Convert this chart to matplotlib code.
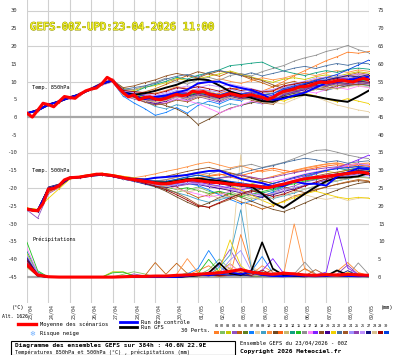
import numpy as np
import matplotlib
matplotlib.use("Agg")
import matplotlib.pyplot as plt
import matplotlib.patheffects as pe
from matplotlib.patches import Rectangle

# 1) Echeances (jours depuis le run)
days6 = np.arange(0, 385, 6) / 24.0
days12 = np.arange(0, 385, 12) / 24.0
date_labels = ["23/04", "24/04", "25/04", "26/04", "27/04", "28/04", "29/04", "30/04",
               "01/05", "02/05", "03/05", "04/05", "05/05", "06/05", "07/05", "08/05", "09/05"]

# 2) Temperature 850hPa
t850_mean = [1.2, 0.1, 2.0, 4.0, 3.6, 3.0, 4.5, 5.9, 5.6, 5.4, 6.6, 7.5, 8.0, 8.3, 9.5, 11.3,
             10.4, 8.6, 7.0, 5.8, 6.4, 5.0, 5.6, 5.8, 5.2, 5.0, 5.4, 6.0, 6.5, 6.1, 6.4, 7.4,
             7.1, 7.3, 6.6, 6.3, 5.9, 6.3, 6.7, 6.4, 6.0, 6.2, 6.4, 6.0, 5.7, 5.1, 5.6, 6.6,
             7.3, 7.6, 8.0, 8.6, 8.7, 9.0, 9.6, 10.0, 9.8, 10.0, 10.3, 10.5, 10.2, 10.0, 10.6, 11.0, 10.5]
t850_ctrl = [1.2, 2.0, 3.6, 4.5, 5.6, 6.6, 8.0, 9.5, 10.4, 7.0, 6.0, 5.2, 5.8, 6.2, 7.0, 7.8, 9.6,
             10.0, 10.1, 9.0, 8.3, 7.7, 6.5, 5.0, 5.3, 6.2, 7.0, 8.4, 9.7, 10.0, 10.6, 11.0, 11.5]
t850_gfs = [1.2, 2.0, 3.6, 4.5, 5.6, 6.6, 8.0, 9.5, 10.4, 7.0, 6.4, 6.8, 7.5, 8.4, 9.2, 10.4, 10.8,
            10.5, 9.0, 7.3, 6.4, 5.5, 4.6, 4.4, 5.6, 6.0, 6.4, 5.9, 5.3, 4.8, 4.4, 5.9, 7.6]
t850_perts = [
    [0.9, 2.4, 3.8, 4.1, 5.8, 6.2, 8.3, 9.8, 10.9, 7.6, 6.9, 6.1, 5.4, 6.2, 7.3, 6.9, 8.0, 7.4, 6.2, 7.1, 5.8, 6.9, 7.4, 8.6, 10.1, 11.8, 13.2, 14.6, 16.0, 17.1, 18.4, 18.1, 18.6],
    [1.3, 1.8, 3.5, 4.7, 5.4, 6.8, 7.7, 9.3, 10.2, 6.6, 5.8, 4.9, 4.6, 5.1, 6.0, 5.5, 6.4, 5.9, 5.0, 6.0, 5.4, 5.9, 5.1, 5.3, 6.9, 7.5, 8.0, 8.9, 9.1, 9.6, 9.4, 10.1, 9.7],
    [1.1, 2.1, 3.8, 4.4, 5.7, 6.5, 8.1, 9.6, 10.6, 8.2, 7.6, 8.5, 9.0, 9.8, 11.0, 10.4, 10.9, 11.6, 12.3, 13.1, 12.2, 11.4, 10.6, 9.9, 10.8, 11.2, 10.7, 11.5, 12.0, 11.6, 12.3, 12.9, 12.5],
    [1.4, 1.9, 3.3, 4.8, 5.2, 7.0, 7.7, 9.1, 10.0, 6.1, 5.2, 4.4, 3.6, 4.1, 5.2, 4.8, 5.9, 5.1, 4.3, 5.5, 4.9, 5.6, 4.8, 4.2, 6.1, 6.9, 7.8, 8.4, 8.1, 9.2, 8.8, 9.5, 9.9],
    [1.0, 2.2, 3.7, 4.3, 5.9, 6.4, 8.2, 9.4, 10.7, 7.4, 6.6, 7.2, 8.1, 9.3, 10.6, 11.8, 11.1, 12.4, 11.6, 12.8, 11.9, 10.7, 9.8, 8.6, 9.4, 10.2, 9.1, 10.5, 11.4, 10.8, 11.9, 12.6, 12.1],
    [1.2, 2.0, 3.4, 4.6, 5.5, 6.7, 7.9, 9.5, 10.3, 6.9, 6.3, 5.3, 5.8, 5.0, 6.8, 6.1, 7.3, 6.8, 6.2, 7.0, 6.6, 7.3, 6.4, 6.9, 7.7, 8.6, 9.1, 10.3, 10.7, 11.4, 10.8, 11.6, 11.2],
    [1.3, 1.9, 3.6, 4.5, 5.6, 6.6, 8.0, 9.4, 10.1, 6.0, 4.1, 2.5, 0.6, 1.4, 2.8, 1.2, 3.4, 4.6, 3.8, 5.1, 4.7, 5.8, 5.2, 6.4, 7.0, 7.9, 8.3, 9.2, 9.6, 10.1, 10.6, 10.3, 10.9],
    [1.1, 2.2, 3.9, 4.3, 5.8, 6.3, 8.3, 9.9, 10.5, 7.2, 6.8, 6.2, 5.6, 6.4, 7.0, 7.6, 7.8, 7.2, 6.6, 7.4, 6.9, 6.1, 5.4, 4.3, 3.8, 5.1, 6.2, 5.8, 4.6, 3.5, 2.8, 2.1, 1.6],
    [1.2, 2.1, 3.5, 4.6, 5.6, 6.7, 7.8, 9.6, 10.4, 6.8, 5.9, 4.6, 3.1, 2.4, 3.6, 3.0, 4.2, 3.6, 2.8, 3.9, 3.3, 4.4, 3.8, 5.0, 6.1, 6.8, 7.2, 8.0, 7.6, 8.4, 8.9, 9.3, 9.0],
    [1.0, 2.3, 3.7, 4.4, 5.7, 6.5, 8.1, 9.7, 10.8, 7.7, 7.2, 6.4, 6.9, 7.6, 8.7, 8.2, 9.3, 10.1, 10.9, 10.2, 9.6, 10.4, 11.2, 10.6, 11.1, 11.9, 12.4, 11.8, 12.6, 13.2, 12.7, 13.4, 13.0],
    [1.2, 2.0, 3.6, 4.5, 5.5, 6.6, 8.0, 9.4, 10.2, 7.1, 6.2, 5.0, 4.2, 3.3, 2.4, 0.8, -2.0, -0.5, 1.2, 2.6, 3.4, 4.1, 4.7, 5.3, 6.0, 6.8, 7.1, 7.9, 8.6, 8.2, 9.0, 9.4, 9.1],
    [1.1, 2.1, 3.8, 4.3, 5.8, 6.4, 8.2, 9.5, 10.6, 7.3, 6.7, 5.9, 5.3, 5.9, 6.6, 7.1, 6.4, 5.8, 6.9, 7.8, 8.4, 7.6, 6.8, 7.4, 8.5, 9.3, 9.9, 10.7, 11.3, 10.9, 11.6, 12.1, 11.8],
    [1.3, 1.9, 3.5, 4.6, 5.5, 6.8, 7.8, 9.3, 10.2, 6.7, 6.0, 5.2, 4.9, 5.6, 6.3, 5.9, 6.7, 7.3, 6.4, 5.8, 6.5, 7.1, 6.3, 5.7, 6.6, 7.2, 8.0, 8.7, 9.2, 8.9, 9.7, 10.0, 9.6],
    [1.2, 2.1, 3.6, 4.5, 5.7, 6.6, 7.9, 9.6, 10.5, 7.5, 7.1, 8.4, 9.3, 10.2, 11.3, 10.8, 11.9, 12.6, 13.4, 14.6, 14.9, 15.3, 15.6, 14.2, 13.1, 12.4, 11.8, 12.6, 13.2, 12.7, 13.5, 13.9, 13.6],
    [1.1, 2.0, 3.7, 4.4, 5.6, 6.5, 8.1, 9.5, 10.4, 7.0, 6.5, 5.7, 5.1, 5.5, 6.4, 6.3, 7.0, 6.5, 5.8, 6.6, 5.9, 6.3, 5.6, 5.5, 7.2, 7.9, 8.6, 9.5, 9.7, 10.2, 10.1, 10.5, 10.4],
    [1.2, 2.0, 3.6, 4.5, 5.6, 6.6, 8.0, 9.5, 10.4, 7.8, 7.9, 8.8, 9.9, 11.1, 10.2, 9.4, 10.6, 11.3, 10.5, 11.8, 12.4, 11.7, 12.9, 13.8, 14.6, 15.9, 16.8, 17.5, 18.6, 19.3, 20.3, 19.1, 18.2],
    [1.3, 1.8, 3.4, 4.7, 5.3, 6.9, 7.7, 9.2, 10.1, 6.4, 5.6, 4.8, 4.0, 4.4, 5.3, 4.7, 3.9, 2.6, 1.3, 2.4, 3.5, 4.6, 3.9, 4.8, 5.6, 6.3, 7.4, 6.9, 7.8, 8.5, 7.9, 8.8, 8.4],
    [1.0, 2.2, 3.8, 4.4, 5.9, 6.4, 8.2, 9.8, 10.7, 7.3, 6.8, 6.1, 5.7, 6.3, 7.2, 6.9, 7.5, 7.0, 6.3, 7.3, 6.7, 7.2, 6.6, 6.1, 7.9, 8.7, 9.4, 10.4, 10.5, 11.1, 10.9, 11.3, 11.0],
    [1.2, 2.1, 3.7, 4.5, 5.6, 6.6, 8.0, 9.6, 10.5, 8.4, 8.9, 9.8, 10.6, 11.7, 12.4, 11.8, 12.9, 12.2, 13.1, 12.6, 11.9, 11.2, 10.4, 9.2, 8.1, 7.4, 8.2, 9.1, 8.7, 9.6, 10.3, 9.9, 10.4],
    [1.1, 2.0, 3.5, 4.6, 5.5, 6.7, 7.9, 9.4, 10.3, 6.6, 5.7, 4.6, 3.9, 4.6, 5.8, 5.1, 6.3, 5.6, 4.7, 5.9, 5.2, 5.9, 5.0, 4.6, 6.4, 7.2, 7.8, 8.9, 9.1, 9.8, 9.6, 10.2, 9.9],
    [1.2, 2.0, 3.6, 4.5, 5.7, 6.6, 8.0, 9.5, 10.4, 7.1, 6.4, 5.8, 5.4, 5.3, 6.7, 6.6, 7.3, 6.8, 6.1, 6.9, 6.2, 6.6, 5.9, 5.3, 4.6, 5.7, 6.8, 6.1, 5.2, 4.4, 5.3, 4.6, 3.9],
    [1.1, 2.2, 3.7, 4.4, 5.8, 6.5, 8.2, 9.6, 10.6, 7.9, 8.4, 8.9, 9.6, 10.8, 11.6, 12.1, 11.4, 12.7, 13.3, 12.5, 11.8, 12.6, 11.7, 12.4, 13.1, 13.9, 14.4, 13.8, 14.6, 15.2, 14.7, 15.4, 15.1],
    [1.3, 1.9, 3.5, 4.6, 5.5, 6.8, 7.8, 9.3, 10.2, 6.5, 5.6, 4.3, 3.5, 3.9, 4.9, 4.4, 5.6, 6.1, 5.4, 6.3, 5.6, 4.9, 4.1, 3.7, 5.6, 6.4, 7.3, 8.1, 7.7, 8.9, 9.4, 9.1, 9.8],
    [1.0, 2.3, 3.8, 4.3, 5.9, 6.3, 8.3, 9.7, 10.8, 7.6, 6.9, 6.4, 5.9, 6.6, 7.6, 7.3, 8.1, 7.6, 7.1, 8.0, 7.2, 7.8, 7.1, 6.8, 8.4, 9.2, 9.6, 10.6, 10.8, 11.5, 11.2, 11.8, 11.4],
    [1.2, 2.0, 3.6, 4.5, 5.6, 6.6, 8.0, 9.5, 10.4, 6.8, 6.0, 5.1, 4.7, 4.9, 5.9, 5.6, 6.6, 6.0, 5.3, 6.2, 5.5, 5.7, 4.9, 4.8, 6.6, 7.3, 8.1, 8.8, 9.0, 9.5, 9.3, 9.8, 9.5],
    [1.1, 2.1, 3.7, 4.4, 5.7, 6.5, 8.1, 9.6, 10.5, 7.4, 7.0, 6.6, 6.2, 7.0, 8.2, 8.9, 8.3, 9.2, 8.6, 9.4, 8.8, 8.1, 7.4, 7.9, 8.8, 9.6, 10.2, 11.1, 11.4, 12.0, 11.7, 12.3, 12.0],
    [1.2, 2.0, 3.6, 4.5, 5.6, 6.6, 8.0, 9.5, 10.4, 6.9, 6.1, 5.4, 5.0, 5.8, 6.9, 6.0, 6.8, 6.3, 5.5, 6.4, 5.7, 6.0, 5.3, 5.8, 7.6, 8.4, 9.3, 10.1, 10.5, 11.2, 11.8, 11.4, 12.1],
    [1.3, 1.9, 3.4, 4.7, 5.4, 6.8, 7.8, 9.3, 10.1, 6.3, 5.4, 4.7, 4.3, 4.8, 5.7, 5.3, 6.1, 5.4, 4.9, 5.7, 5.0, 5.2, 4.4, 4.0, 5.8, 6.5, 7.0, 7.9, 8.4, 8.0, 8.7, 9.0, 8.6],
    [1.1, 2.2, 3.7, 4.4, 5.8, 6.5, 8.2, 9.6, 10.6, 7.6, 7.3, 7.0, 6.6, 7.4, 8.4, 8.0, 8.7, 8.1, 7.4, 8.3, 7.6, 8.0, 7.2, 7.5, 8.9, 9.4, 10.0, 9.4, 10.2, 10.9, 10.3, 11.0, 10.7],
    [1.2, 2.1, 3.6, 4.5, 5.6, 6.6, 7.9, 9.5, 10.3, 7.2, 6.7, 5.9, 5.5, 6.0, 6.9, 6.7, 7.4, 6.9, 6.4, 7.2, 6.6, 6.9, 6.2, 6.7, 8.1, 8.9, 9.6, 10.5, 11.2, 12.1, 13.4, 14.8, 16.2],
]

# 3) Temperature 500hPa
t500_mean = [-25.8, -26.2, -26.3, -24.2, -20.2, -20.0, -19.2, -17.6, -17.0, -16.9, -16.8, -16.5, -16.3,
             -16.0, -16.0, -16.2, -16.4, -16.7, -17.0, -17.3, -17.5, -17.7, -18.0, -18.2, -18.5, -18.7,
             -18.7, -18.5, -18.2, -18.0, -17.7, -17.6, -17.8, -18.0, -18.2, -18.3, -18.4, -18.6, -18.8,
             -18.9, -19.0, -19.1, -19.2, -19.4, -19.6, -19.8, -19.5, -19.1, -18.8, -18.4, -18.0, -17.6,
             -17.3, -17.1, -16.9, -16.8, -16.6, -16.4, -16.2, -16.0, -15.8, -15.6, -15.4, -15.5, -15.8]
t500_ctrl = [-25.9, -26.2, -20.3, -19.1, -17.0, -16.8, -16.3, -16.0, -16.5, -17.1, -17.3, -17.5, -17.0,
             -16.8, -16.5, -16.2, -15.6, -15.1, -15.0, -16.2, -17.3, -18.0, -18.5, -19.5, -19.3, -18.0,
             -18.7, -18.7, -19.2, -16.7, -15.5, -14.3, -14.6]
t500_gfs = [-25.8, -26.3, -20.1, -19.2, -17.0, -16.8, -16.3, -16.0, -16.4, -17.0, -17.5, -18.0, -18.3,
            -18.4, -17.9, -17.4, -17.2, -17.6, -17.9, -18.4, -18.9, -19.5, -21.5, -24.0, -25.5, -23.5,
            -21.5, -19.6, -18.0, -17.0, -16.9, -16.6, -15.6]
t500_perts = [
    [-25.6, -26.0, -21.0, -19.6, -17.2, -16.6, -16.1, -15.8, -16.3, -16.8, -17.2, -17.9, -18.1, -17.6, -16.9, -16.2, -15.8, -16.4, -15.9, -16.8, -17.5, -16.9, -17.4, -16.6, -15.8, -14.9, -14.2, -13.6, -13.1, -12.8, -13.4, -12.9, -13.2],
    [-26.0, -26.4, -19.8, -18.9, -16.8, -16.9, -16.4, -16.2, -16.6, -17.3, -17.9, -18.6, -19.4, -20.2, -21.1, -20.4, -19.6, -20.8, -21.6, -20.9, -22.1, -23.0, -22.4, -21.6, -20.7, -19.8, -19.1, -18.4, -17.6, -17.9, -17.2, -16.8, -17.1],
    [-25.7, -26.2, -20.6, -19.4, -17.1, -16.7, -16.2, -15.9, -16.2, -16.9, -17.4, -17.6, -17.9, -18.4, -18.0, -17.2, -17.5, -18.9, -19.5, -20.6, -19.8, -18.7, -17.9, -18.6, -17.8, -16.9, -16.3, -15.9, -15.2, -15.6, -14.8, -14.5, -14.9],
    [-26.1, -28.4, -21.5, -19.8, -17.3, -16.9, -16.5, -16.1, -16.5, -17.2, -17.6, -18.3, -18.8, -19.1, -18.7, -18.1, -18.6, -19.3, -20.1, -19.4, -20.6, -21.3, -22.0, -21.2, -20.1, -19.3, -18.2, -17.6, -16.9, -16.4, -15.8, -15.2, -15.5],
    [-25.6, -26.1, -20.1, -19.0, -16.9, -16.6, -16.2, -15.9, -16.3, -17.0, -17.4, -17.8, -18.2, -18.9, -19.6, -21.2, -22.6, -21.8, -20.9, -22.4, -23.8, -24.6, -25.8, -24.9, -23.6, -22.1, -21.4, -20.3, -19.6, -18.8, -18.1, -17.5, -17.9],
    [-25.9, -26.3, -20.4, -19.3, -17.0, -16.8, -16.3, -16.0, -16.4, -17.1, -17.6, -18.1, -18.6, -18.9, -18.4, -17.8, -17.9, -18.3, -18.6, -19.0, -19.3, -19.5, -19.9, -19.6, -18.9, -18.2, -17.5, -17.1, -16.8, -16.4, -16.0, -15.6, -16.0],
    [-25.8, -26.3, -20.2, -19.2, -17.0, -16.8, -16.3, -16.0, -16.4, -17.0, -17.6, -18.3, -18.9, -19.4, -19.0, -18.6, -19.2, -20.4, -21.8, -23.1, -24.3, -23.6, -22.4, -21.0, -19.6, -18.3, -17.1, -15.9, -14.8, -14.1, -13.6, -13.2, -13.5],
    [-25.7, -26.2, -20.0, -19.1, -16.9, -16.7, -16.2, -16.0, -16.3, -16.9, -17.3, -17.7, -18.1, -18.3, -17.9, -17.4, -17.6, -17.9, -18.1, -18.6, -18.9, -19.0, -19.4, -20.3, -21.5, -22.4, -21.8, -22.6, -23.1, -22.5, -23.4, -22.8, -22.6],
    [-26.0, -26.5, -19.9, -19.0, -17.2, -17.0, -16.6, -16.3, -16.7, -17.4, -18.0, -18.8, -19.6, -20.4, -21.2, -22.0, -23.1, -23.9, -23.2, -22.4, -21.5, -20.6, -21.8, -22.9, -22.1, -21.3, -20.2, -19.4, -18.6, -17.9, -17.3, -16.6, -16.9],
    [-25.5, -26.0, -21.2, -19.7, -17.3, -16.5, -16.0, -15.7, -16.1, -16.6, -17.0, -16.5, -15.9, -15.2, -14.6, -13.9, -13.1, -12.6, -13.4, -14.2, -13.6, -14.5, -15.3, -14.8, -15.6, -15.1, -14.4, -13.8, -13.2, -12.9, -13.5, -13.1, -12.8],
    [-25.9, -26.4, -20.3, -19.4, -17.1, -16.9, -16.4, -16.1, -16.5, -17.2, -17.8, -18.6, -19.5, -20.8, -22.4, -23.9, -25.2, -24.1, -22.6, -21.4, -22.5, -23.6, -24.8, -25.9, -26.6, -25.4, -24.1, -22.8, -21.6, -20.5, -19.4, -18.6, -18.2],
    [-25.6, -26.1, -20.8, -19.5, -17.1, -16.6, -16.1, -15.8, -16.2, -16.8, -17.3, -17.8, -18.3, -18.6, -18.1, -17.5, -17.1, -16.6, -16.2, -15.8, -16.4, -15.6, -14.9, -14.3, -14.9, -15.4, -14.8, -14.2, -13.7, -13.3, -13.9, -13.4, -13.8],
    [-25.8, -26.2, -20.1, -19.2, -17.0, -16.8, -16.3, -16.0, -16.4, -17.0, -17.5, -18.0, -18.5, -18.7, -18.2, -17.7, -17.8, -18.2, -18.4, -18.8, -19.0, -19.2, -19.6, -19.5, -18.8, -18.0, -17.3, -16.9, -16.6, -16.2, -15.8, -15.4, -15.8],
    [-25.7, -26.3, -20.5, -19.3, -17.1, -16.7, -16.2, -15.9, -16.3, -16.9, -17.3, -17.6, -17.8, -18.1, -17.5, -16.9, -16.2, -16.8, -17.4, -18.2, -19.1, -20.2, -21.3, -20.6, -19.4, -18.1, -16.8, -15.7, -14.9, -14.3, -14.8, -14.1, -14.5],
    [-26.0, -26.4, -19.7, -18.8, -16.9, -16.9, -16.5, -16.2, -16.6, -17.3, -17.8, -18.4, -19.0, -19.6, -20.3, -19.8, -20.6, -21.4, -20.8, -21.6, -22.3, -21.7, -20.9, -20.2, -19.3, -18.7, -17.9, -17.4, -16.8, -16.1, -15.5, -15.0, -15.3],
    [-25.8, -26.2, -20.3, -19.2, -17.0, -16.7, -16.2, -15.9, -16.3, -16.9, -17.3, -17.7, -17.9, -17.5, -16.8, -16.0, -15.4, -15.9, -15.1, -14.6, -13.8, -13.2, -14.1, -13.4, -12.7, -11.6, -10.4, -9.3, -9.1, -9.8, -10.6, -11.2, -11.6],
    [-25.7, -26.1, -20.0, -19.1, -16.9, -16.7, -16.2, -16.0, -16.4, -17.1, -17.6, -18.2, -18.7, -19.3, -20.1, -20.9, -21.6, -22.4, -21.9, -20.8, -19.9, -19.2, -18.6, -18.0, -17.4, -16.7, -15.9, -15.3, -14.7, -14.2, -13.6, -13.0, -13.4],
    [-25.9, -26.3, -20.2, -19.3, -17.0, -16.8, -16.3, -16.0, -16.4, -17.0, -17.5, -18.1, -18.6, -18.9, -18.5, -18.0, -18.3, -18.8, -19.3, -19.9, -20.4, -19.8, -19.2, -18.7, -17.9, -17.2, -16.5, -15.8, -15.0, -14.2, -13.1, -11.9, -10.6],
    [-25.6, -26.0, -20.9, -19.5, -17.2, -16.6, -16.1, -15.8, -16.2, -16.7, -17.1, -17.3, -17.1, -16.6, -15.9, -15.2, -14.6, -14.1, -14.8, -15.6, -16.3, -17.1, -17.9, -18.6, -19.5, -20.4, -21.2, -20.5, -19.6, -18.9, -18.3, -17.8, -18.1],
    [-26.1, -26.6, -19.6, -18.8, -17.1, -17.0, -16.6, -16.3, -16.7, -17.4, -18.0, -18.7, -19.3, -19.8, -19.2, -18.6, -18.9, -19.5, -20.0, -20.6, -21.2, -21.9, -22.5, -21.8, -20.9, -20.1, -19.2, -18.5, -17.7, -17.0, -16.4, -15.9, -16.2],
    [-25.5, -25.9, -22.8, -20.1, -17.4, -16.5, -16.0, -15.7, -16.1, -16.6, -17.0, -17.5, -17.9, -18.2, -17.8, -17.3, -17.0, -17.6, -18.3, -19.2, -20.4, -21.9, -23.4, -24.6, -23.8, -22.6, -21.5, -20.8, -21.6, -22.4, -22.9, -22.5, -22.8],
    [-25.8, -26.2, -20.2, -19.2, -17.0, -16.8, -16.3, -16.0, -16.4, -17.0, -17.5, -17.9, -18.3, -18.4, -17.9, -17.3, -17.2, -17.4, -17.0, -16.5, -15.7, -14.9, -14.2, -13.6, -12.8, -12.1, -11.5, -11.9, -12.6, -12.2, -12.9, -12.5, -12.2],
    [-25.9, -26.4, -20.4, -19.4, -17.1, -16.9, -16.4, -16.1, -16.5, -17.2, -17.7, -18.4, -19.1, -20.0, -21.3, -22.8, -24.6, -25.4, -24.2, -23.1, -22.0, -20.9, -20.1, -19.3, -18.6, -17.9, -17.2, -16.5, -15.9, -15.4, -14.9, -14.5, -14.8],
    [-25.7, -26.1, -20.1, -19.1, -16.9, -16.7, -16.2, -15.9, -16.3, -16.9, -17.4, -17.9, -18.3, -18.5, -18.0, -17.5, -17.6, -18.0, -18.3, -18.7, -18.8, -19.0, -19.3, -19.1, -18.5, -17.7, -17.0, -16.7, -16.3, -15.9, -15.6, -15.2, -15.5],
    [-25.8, -26.3, -20.3, -19.2, -17.0, -16.8, -16.3, -16.0, -16.4, -17.0, -17.5, -18.0, -18.4, -18.8, -19.4, -18.9, -18.3, -17.7, -17.1, -16.8, -16.2, -16.8, -17.4, -16.9, -16.2, -15.6, -15.0, -14.6, -14.2, -13.9, -14.3, -13.8, -14.1],
    [-26.0, -26.5, -19.9, -19.0, -17.1, -16.9, -16.5, -16.2, -16.6, -17.3, -17.9, -18.5, -19.1, -19.4, -19.0, -18.5, -18.7, -19.2, -19.6, -20.3, -20.9, -21.5, -22.0, -21.4, -20.6, -19.8, -19.0, -18.3, -17.6, -17.0, -16.5, -16.1, -16.4],
    [-25.8, -26.3, -20.2, -19.2, -17.0, -16.8, -16.3, -16.0, -16.4, -17.0, -17.5, -18.1, -18.6, -18.8, -18.3, -17.8, -17.9, -18.4, -18.7, -19.2, -19.4, -19.7, -20.1, -19.8, -19.0, -18.2, -17.4, -16.9, -16.4, -15.9, -15.4, -14.9, -15.2],
    [-25.7, -26.2, -20.6, -19.4, -17.1, -16.7, -16.2, -15.9, -16.3, -16.9, -17.4, -18.0, -18.6, -19.3, -20.2, -21.0, -20.4, -21.7, -22.8, -22.1, -21.3, -22.6, -23.3, -22.7, -21.9, -21.0, -20.2, -19.3, -18.5, -17.8, -17.2, -16.7, -17.0],
    [-25.9, -26.4, -20.3, -19.3, -17.1, -16.9, -16.4, -16.1, -16.5, -17.2, -17.8, -18.5, -19.3, -20.4, -21.8, -23.3, -24.9, -25.3, -24.0, -22.7, -21.5, -20.6, -21.4, -22.3, -21.6, -20.5, -19.3, -18.2, -17.3, -16.6, -16.0, -15.5, -15.8],
    [-25.7, -26.1, -20.1, -19.1, -16.9, -16.7, -16.2, -15.9, -16.3, -16.9, -17.3, -17.6, -17.9, -18.0, -17.4, -16.7, -16.3, -16.9, -17.5, -18.0, -18.4, -18.9, -19.3, -18.6, -17.8, -16.9, -16.1, -15.5, -14.9, -14.5, -14.1, -13.8, -14.2],
]

# 4) Precipitations (mm)
rr_mean = [3.5, 0.6, 0.1, 0, 0, 0, 0, 0, 0, 0.1, 0.2, 0.2, 0.3, 0.3, 0.5, 0.6, 0.8, 1.0, 1.2, 1.6, 2.1,
           1.4, 1.0, 0.8, 1.1, 0.9, 0.6, 0.5, 0.7, 0.6, 0.8, 0.6, 0.5]
rr_ctrl = [3.6, 0.5, 0, 0, 0, 0, 0, 0, 0, 0, 0, 0, 0, 0, 0, 0.3, 0.7, 0.5, 0.9, 1.4, 0.8, 1.6, 0.6,
           0.3, 0.2, 0.4, 0.3, 0.2, 0.3, 0.5, 0.3, 0.2, 0.3]
rr_gfs = [3.4, 0.4, 0, 0, 0, 0, 0, 0, 0, 0, 0, 0, 0, 0, 0, 0.2, 0.5, 1.2, 4.0, 1.0, 0.6, 1.8, 9.8,
          2.4, 0.5, 0.3, 0.2, 0.4, 0.3, 1.9, 0.6, 0.3, 0.2]
rr_perts = [
    [4.2, 0.8, 0, 0, 0, 0, 0, 0, 0, 0, 0, 0, 0, 0, 0, 0.6, 1.8, 3.2, 1.1, 0.4, 12.0, 2.5, 0.6, 0.3, 0.8, 1.2, 0.4, 0.2, 0.5, 1.6, 4.1, 1.3, 0.4],
    [3.1, 0.5, 0, 0, 0, 0, 0, 0, 0, 0.8, 1.5, 0.9, 0, 0, 0.3, 1.2, 0.5, 2.1, 5.1, 2.2, 0.6, 0.4, 1.0, 0.7, 0.3, 0.2, 0.6, 0.3, 0.1, 0.4, 0.8, 0.3, 0.2],
    [6.5, 1.2, 0, 0, 0, 0, 0, 0, 1.5, 1.5, 0.4, 0, 0, 0, 0, 0.2, 0.9, 0.4, 1.6, 3.8, 1.2, 0.3, 0.2, 0.6, 1.4, 0.5, 0.2, 0.1, 0.3, 0.2, 0.5, 0.9, 0.3],
    [3.8, 0.6, 0, 0, 0, 0, 0, 0, 0, 0, 0.9, 0.3, 0, 0, 0, 0.4, 0.2, 1.1, 3.4, 7.8, 2.6, 0.5, 0.3, 0.9, 0.4, 0.2, 0.1, 0.3, 0.2, 0.6, 0.3, 0.4, 0.2],
    [5.2, 0.9, 0, 0, 0, 0, 0, 0, 0, 0, 0, 0.3, 4.1, 0.8, 3.9, 1.0, 0.3, 0.6, 0.2, 0.5, 1.3, 0.6, 0.4, 0.2, 0.3, 0.5, 2.4, 0.8, 0.3, 0.2, 0.4, 0.6, 0.3],
    [2.9, 0.4, 0, 0, 0, 0, 0, 0, 0, 0, 0, 0, 0, 0, 0.2, 0.5, 0.3, 0.8, 1.2, 0.7, 0.4, 0.6, 1.5, 0.5, 0.3, 0.2, 0.4, 0.8, 0.3, 0.2, 0.1, 0.3, 0.2],
    [4.5, 0.7, 0, 0, 0, 0, 0, 0, 0, 0, 0, 0, 0, 0, 0.3, 0.9, 2.4, 7.5, 3.0, 0.8, 0.5, 1.7, 5.8, 1.2, 0.6, 0.3, 0.2, 0.5, 0.3, 0.2, 0.4, 0.2, 0.1],
    [3.3, 0.5, 0, 0, 0, 0, 0, 0, 0, 0, 0, 0, 0, 0, 0, 0.3, 0.6, 1.4, 0.8, 2.2, 34.5, 3.1, 0.9, 0.4, 0.2, 0.6, 0.3, 0.2, 0.5, 0.3, 0.2, 0.4, 0.3],
    [5.8, 1.0, 0, 0, 0, 0, 0, 0, 0, 0, 0, 0, 0, 0, 0, 0.4, 1.1, 0.6, 2.8, 6.2, 19.0, 2.4, 0.7, 0.3, 0.5, 0.2, 0.4, 0.3, 0.2, 0.5, 0.3, 0.2, 0.4],
    [3.6, 0.6, 0, 0, 0, 0, 0, 0, 0, 0, 0, 0, 0, 0, 0.8, 5.2, 1.3, 0.5, 0.9, 2.6, 1.1, 0.7, 3.2, 1.4, 0.6, 15.0, 2.2, 0.8, 0.4, 0.3, 0.6, 0.5, 0.3],
    [4.8, 0.8, 0, 0, 0, 0, 0, 0, 0, 0, 0, 0, 0, 0, 0, 0.2, 0.5, 1.3, 0.6, 0.9, 2.4, 1.6, 0.7, 2.1, 0.9, 0.5, 0.3, 0.6, 0.4, 0.2, 0.3, 0.5, 0.2],
    [3.2, 0.5, 0, 0, 0, 0, 0, 0, 0, 0, 0, 0, 0, 0, 0.2, 0.5, 0.3, 0.9, 1.6, 0.8, 1.2, 0.6, 0.4, 0.8, 1.5, 0.6, 0.3, 0.2, 0.4, 0.7, 0.3, 1.1, 0.4],
    [2.6, 0.4, 0, 0, 0, 0, 0, 0, 0, 0, 0, 0, 0, 0, 0, 0.2, 0.4, 0.6, 0.9, 1.8, 0.6, 0.4, 0.3, 0.5, 0.2, 0.6, 0.4, 0.3, 1.2, 0.5, 0.2, 0.3, 0.2],
    [7.2, 1.4, 0, 0, 0, 0, 0, 0, 0, 0, 0, 0, 0, 0, 0, 0.3, 0.6, 0.4, 1.1, 0.5, 0.9, 0.6, 0.3, 0.7, 0.4, 0.2, 0.5, 0.3, 0.2, 0.4, 0.3, 0.2, 0.3],
    [9.8, 1.8, 0, 0, 0, 0, 0, 0, 1.2, 1.4, 0.3, 0, 0, 0, 0, 0.5, 1.0, 5.0, 1.4, 0.6, 0.9, 0.4, 0.3, 0.6, 0.2, 0.4, 0.3, 0.2, 0.5, 0.3, 0.8, 0.4, 0.2],
    [3.4, 0.5, 0, 0, 0, 0, 0, 0, 0, 0, 0, 0, 0, 0, 0, 0.2, 0.3, 0.7, 0.5, 1.2, 0.6, 0.8, 0.4, 0.3, 0.5, 0.9, 4.2, 0.8, 0.3, 0.6, 0.4, 4.0, 0.7],
    [8.2, 1.1, 0, 0, 0, 0, 0, 0, 0, 0, 0, 0, 0, 0, 0.4, 0.8, 0.4, 1.5, 0.7, 3.6, 1.2, 0.5, 0.8, 0.4, 0.3, 0.5, 0.2, 0.4, 0.3, 0.8, 0.5, 0.3, 0.6],
    [4.0, 0.7, 0, 0, 0, 0, 0, 0, 0, 0, 0, 0, 0, 0, 0, 0.2, 0.6, 0.9, 0.4, 1.0, 0.5, 0.7, 1.8, 5.2, 1.1, 0.4, 0.3, 0.6, 1.4, 14.0, 2.6, 0.7, 0.3],
    [3.0, 0.5, 0, 0, 0, 0, 0, 0, 0, 0, 0, 0, 0, 0.2, 0.5, 0.3, 0.8, 0.5, 1.3, 0.7, 0.4, 0.9, 0.5, 0.3, 0.6, 0.4, 0.2, 0.5, 0.3, 0.4, 0.9, 0.3, 0.2],
    [5.5, 0.9, 0, 0, 0, 0, 0, 0, 0, 0, 0, 0, 0, 0, 0, 0.3, 0.5, 0.8, 0.4, 0.6, 1.1, 0.5, 0.3, 0.7, 0.4, 0.2, 0.3, 0.5, 0.2, 0.3, 0.4, 0.2, 0.3],
    [3.7, 0.6, 0, 0, 0, 0, 0, 0, 0, 0, 0, 0, 0, 0, 0, 0.4, 1.2, 0.7, 2.0, 10.5, 3.2, 0.8, 0.4, 0.6, 0.3, 0.2, 0.5, 0.3, 0.9, 0.4, 1.3, 0.5, 0.3],
    [4.4, 0.7, 0, 0, 0, 0, 0, 0, 0, 0, 0, 0, 0, 0, 0, 0.3, 0.7, 1.1, 0.5, 0.8, 0.4, 0.6, 1.0, 0.4, 0.3, 0.5, 0.7, 0.3, 0.2, 0.4, 0.3, 0.5, 0.2],
    [3.5, 0.6, 0, 0, 0, 0, 0, 0, 0, 0, 0, 0, 0, 0, 0, 0.2, 0.4, 0.9, 1.6, 0.7, 0.5, 1.0, 0.6, 0.3, 0.4, 0.6, 0.3, 2.1, 0.5, 0.3, 0.2, 0.4, 0.3],
    [6.0, 1.0, 0, 0, 0, 0, 0, 0, 0, 0, 0, 0, 0, 0, 0, 0.3, 0.9, 0.5, 1.2, 4.8, 7.5, 1.6, 0.5, 0.3, 0.4, 0.2, 0.3, 0.5, 0.3, 0.6, 0.4, 0.3, 0.5],
    [4.1, 0.7, 0, 0, 0, 0, 0, 0, 0, 0, 0, 0, 0, 0, 0, 0.2, 0.5, 0.3, 0.9, 0.5, 0.8, 0.4, 0.6, 0.3, 0.5, 0.7, 0.4, 0.2, 0.5, 0.8, 3.4, 0.7, 0.3],
    [3.9, 0.6, 0, 0, 0, 0, 0, 0, 0, 0, 0, 0, 0, 0, 0, 0.3, 0.6, 1.0, 0.6, 0.9, 2.8, 0.7, 0.4, 0.6, 0.3, 0.2, 0.4, 0.3, 0.2, 0.5, 0.3, 0.4, 0.2],
    [5.0, 0.8, 0, 0, 0, 0, 0, 0, 0, 0, 0, 0, 0, 0, 0, 0.2, 0.4, 0.7, 0.4, 1.3, 0.6, 0.3, 0.5, 0.4, 0.2, 0.3, 0.5, 0.2, 0.4, 0.3, 1.8, 0.5, 0.2],
    [3.2, 0.5, 0, 0, 0, 0, 0, 0, 0, 0, 0, 0, 0, 0, 0, 0.4, 0.8, 0.5, 1.4, 0.7, 1.5, 0.6, 0.3, 0.5, 0.4, 0.3, 0.2, 0.4, 0.3, 0.2, 0.5, 0.3, 0.2],
    [4.6, 0.8, 0, 0, 0, 0, 0, 0, 0, 0, 0, 0, 0, 0, 0, 0.3, 0.5, 0.8, 0.4, 0.7, 1.2, 0.5, 2.0, 0.6, 0.3, 0.4, 0.2, 0.3, 0.5, 0.3, 0.2, 0.4, 0.3],
    [3.3, 0.5, 0, 0, 0, 0, 0, 0, 0, 0, 0, 0, 0, 0, 0, 0.2, 0.6, 0.4, 0.9, 0.5, 0.7, 1.1, 0.4, 0.3, 0.5, 0.2, 0.4, 0.3, 0.2, 0.6, 0.3, 0.2, 0.4],
]

pert_colors = ["#ff7f27", "#80c060", "#c8c800", "#9050c0", "#c06010", "#608020", "#1080ff", "#e8d0a0",
               "#40a0c8", "#ff9040", "#704820", "#ff6010", "#c8b870", "#10a080", "#20c020", "#909090",
               "#ff80ff", "#8020ff", "#905020", "#400090", "#f0d000", "#4870a0", "#a05828", "#a090ff",
               "#9040b0", "#c090ff", "#101080", "#d8c090", "#a00000", "#0040e0"]

RR_BASE = -45  # zero des precipitations sur l'echelle de gauche

# 5) Figure
W, H = 395, 355
fig = plt.figure(figsize=(W / 100, H / 100), dpi=100)
fig.patch.set_facecolor("white")
ax = fig.add_axes([27 / W, 52 / H, 342 / W, 303 / H])
ax.set_xlim(0, 16)
ax.set_ylim(-52.3, 33.1)
for s in ax.spines.values():
    s.set_visible(False)
ax.set_xticks([])
ax.set_yticks([])

for d in range(17):
    ax.axvline(d, color="#d0d0d0", lw=0.8, zorder=0)
for v in [30, 20, 10, -10, -20, -30]:
    ax.axhline(v, color="#d0d0d0", lw=0.8, zorder=0)
ax.axhline(0, color="#a8a8a8", lw=1.6, zorder=0)
ax.axhline(-45, color="#a8a8a8", lw=1.6, zorder=0)

for i in range(30):
    c = pert_colors[i]
    ax.plot(days12, t850_perts[i], color=c, lw=0.6, marker="o", ms=0.9, mew=0, zorder=2)
    ax.plot(days12, t500_perts[i], color=c, lw=0.6, marker="o", ms=0.9, mew=0, zorder=2)
    ax.plot(days12, np.array(rr_perts[i]) + RR_BASE, color=c, lw=0.6, zorder=2)

ax.plot(days12, t850_gfs, color="black", lw=1.4, zorder=3)
ax.plot(days12, t500_gfs, color="black", lw=1.4, zorder=3)
ax.plot(days12, np.array(rr_gfs) + RR_BASE, color="black", lw=1.2, zorder=3)
ax.plot(days12, t850_ctrl, color="#0000ff", lw=1.4, zorder=4)
ax.plot(days12, t500_ctrl, color="#0000ff", lw=1.4, zorder=4)
ax.plot(days12, np.array(rr_ctrl) + RR_BASE, color="#0000ff", lw=1.2, zorder=4)
ax.plot(days6, t850_mean, color="#ff0000", lw=2.2, zorder=5)
ax.plot(days6, t500_mean, color="#ff0000", lw=2.2, zorder=5)
ax.plot(days12, np.array(rr_mean) + RR_BASE, color="#ff0000", lw=2.2, zorder=5)

mono = "DejaVu Sans Mono"


def px(x, y):
    return x / W, 1 - y / H


# axes gauche / droite
for v in range(30, -50, -5):
    yy = 11 + (30 - v) * 3.55
    fig.text(*px(17, yy), str(v), ha="right", va="center", fontsize=4, family=mono, color="#333333")
    fig.text(*px(378, yy), str(v + 45), ha="left", va="center", fontsize=4, family=mono, color="#333333")

for d, lab in enumerate(date_labels):
    fig.text(*px(27 + d * 21.35 + 1, 304), lab, rotation=90, ha="left", va="top",
             fontsize=3.6, family=mono, color="#333333")

fig.text(*px(12, 307), "(°C)", ha="left", va="center", fontsize=3.8, family=mono)
fig.text(*px(2, 316), "Alt. 1626", ha="left", va="center", fontsize=3.5, family=mono)
fig.text(*px(381, 308), "(mm)", ha="left", va="center", fontsize=3.8, family=mono)

ax.text(0.25, 8.4, "Temp. 850hPa", fontsize=3.8, family=mono, va="center")
ax.text(0.25, -15.0, "Temp. 500hPa", fontsize=3.8, family=mono, va="center")
ax.text(0.25, -34.3, "Précipitations", fontsize=3.8, family=mono, va="center")

fig.text(*px(30, 27), "GEFS-00Z-UPD:23-04-2026 11:00", ha="left", va="center", fontsize=7.6,
         family=mono, color="#ffff30",
         path_effects=[pe.withStroke(linewidth=0.8, foreground="#9a9a00")])

# 6) Legende
fig.add_artist(plt.Line2D([18 / W, 36 / W], [1 - 324 / H] * 2, color="#ff0000", lw=2.4))
fig.text(*px(40, 324), "Moyenne des scénarios", ha="left", va="center", fontsize=3.9, family=mono)
fig.add_artist(plt.Line2D([120 / W, 137 / W], [1 - 322 / H] * 2, color="#0000ff", lw=2.0))
fig.add_artist(plt.Line2D([120 / W, 137 / W], [1 - 327 / H] * 2, color="black", lw=2.0))
fig.text(*px(141, 322), "Run de contrôle", ha="left", va="center", fontsize=3.9, family=mono)
fig.text(*px(141, 327.5), "Run GFS", ha="left", va="center", fontsize=3.9, family=mono)
fig.text(*px(32, 334), "❄", ha="center", va="center", fontsize=5, color="#70b0ff")
fig.text(*px(40, 334), "Risque neige", ha="left", va="center", fontsize=3.9, family=mono)
fig.text(*px(181, 330), "30 Perts.", ha="left", va="center", fontsize=3.9, family=mono)

for i in range(30):
    x0 = 214 + i * 5.85
    fig.text(*px(x0 + 2.5, 326), "%02d" % (i + 1), ha="center", va="center", fontsize=2.6, family=mono)
    fig.add_artist(Rectangle((x0 / W, 1 - 334 / H), 5 / W, 3.5 / H, transform=fig.transFigure,
                             facecolor=pert_colors[i], edgecolor="none"))

fig.add_artist(Rectangle((11 / W, 0.0), 224 / W, 14 / H, transform=fig.transFigure,
                         facecolor="white", edgecolor="black", lw=0.8))
fig.text(*px(15, 345), "Diagramme des ensembles GEFS sur 384h : 40.6N 22.9E", ha="left", va="center",
         fontsize=4.4, family=mono, weight="bold")
fig.text(*px(15, 352), "Températures 850hPa et 500hPa (°C) , précipitations (mm)", ha="left",
         va="center", fontsize=3.7, family=mono)
fig.text(*px(240, 343), "Ensemble GEFS du 23/04/2026 - 00Z", ha="left", va="center", fontsize=3.9,
         family=mono)
fig.text(*px(240, 352), "Copyright 2026 Meteociel.fr", ha="left", va="center", fontsize=4.5,
         family=mono, weight="bold")

plt.savefig("out.png", dpi=100)
